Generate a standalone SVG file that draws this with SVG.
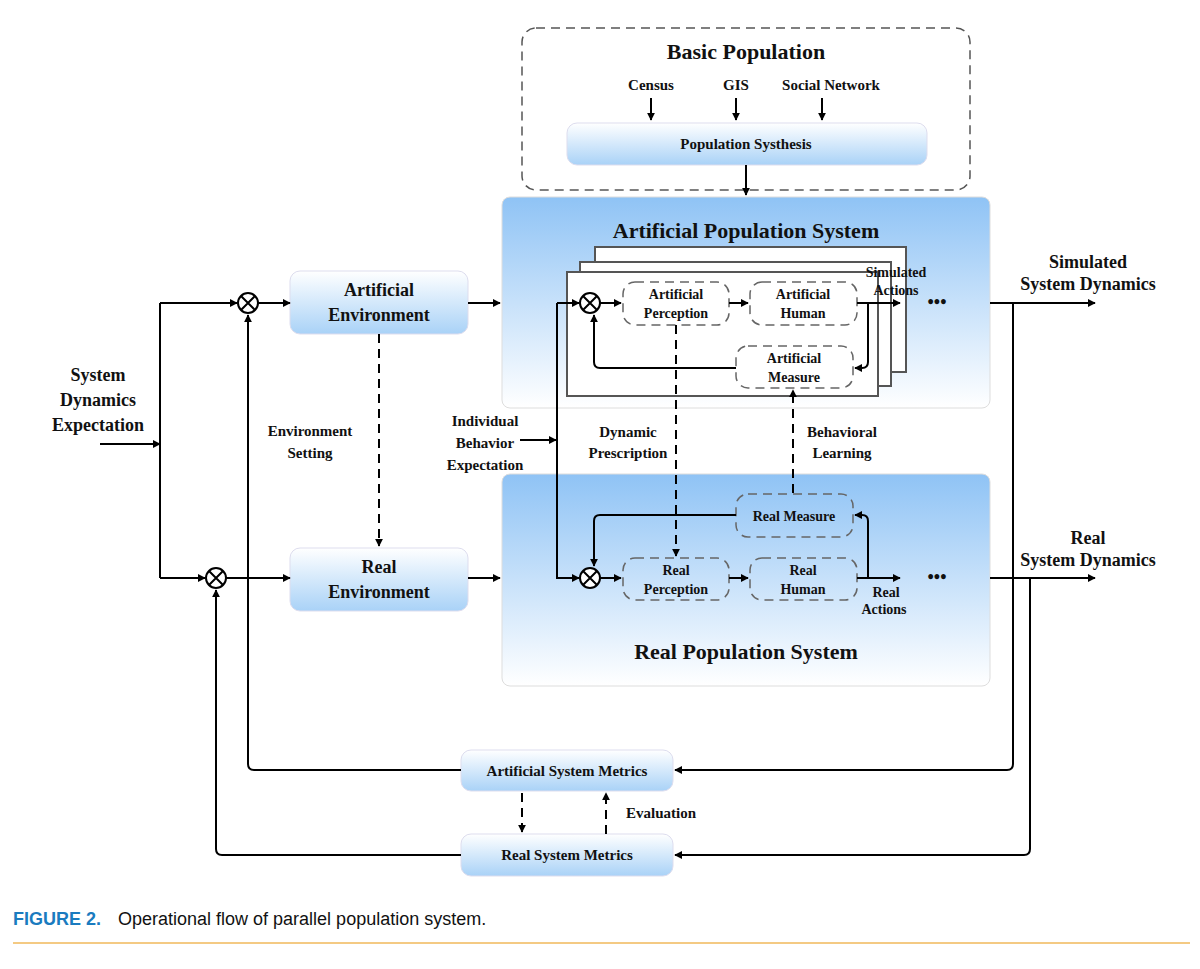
<svg xmlns="http://www.w3.org/2000/svg" width="1200" height="969" viewBox="0 0 1200 969">
<defs>
<linearGradient id="gTop" x1="0" y1="0" x2="0" y2="1"><stop offset="0" stop-color="#8fc3f5"/><stop offset="1" stop-color="#ffffff"/></linearGradient>
<linearGradient id="gBox" x1="0" y1="0" x2="0" y2="1"><stop offset="0" stop-color="#ffffff"/><stop offset="1" stop-color="#a9d2f7"/></linearGradient>
<marker id="ar" viewBox="0 0 10 10" refX="9" refY="5" markerWidth="8" markerHeight="8" markerUnits="userSpaceOnUse" orient="auto"><path d="M0,0L10,5L0,10z" fill="#000"/></marker>
</defs>
<style>
text{font-family:"Liberation Serif",serif;font-weight:bold;fill:#111;text-anchor:middle}
.t{font-size:18px}.s{font-size:15px}.xs{font-size:14px}.big{font-size:22px}
.ln{fill:none;stroke:#000;stroke-width:2;marker-end:url(#ar)}
.nl{fill:none;stroke:#000;stroke-width:2}
.dl{fill:none;stroke:#000;stroke-width:2;stroke-dasharray:9,6;marker-end:url(#ar)}
.box{fill:url(#gBox);stroke:#dde;stroke-width:1}
.dbox{fill:none;stroke:#666;stroke-width:1.5;stroke-dasharray:9,6}
.frame{fill:#fff;stroke:#555;stroke-width:2}
.circ{fill:#fff;stroke:#000;stroke-width:2}
</style>
<rect width="1200" height="969" fill="#fff"/>
<g id="basic-population">
<rect x="522" y="28" width="448" height="162" rx="14" fill="none" stroke="#555" stroke-width="1.5" stroke-dasharray="9,6"/>
<text x="746" y="59" class="big">Basic Population</text>
<text x="651" y="90" class="s">Census</text><text x="736" y="90" class="s">GIS</text><text x="831" y="90" class="s">Social Network</text>
<rect x="567" y="123" width="360" height="42" rx="10" class="box"/>
<text x="746" y="149" class="s">Population Systhesis</text>
</g>
<g id="artificial-system">
<rect x="502" y="197" width="488" height="211" rx="8" fill="url(#gTop)" stroke="#ddd"/>
<text x="746" y="238" class="big">Artificial Population System</text>
<rect x="595" y="247" width="311" height="125" class="frame"/>
<rect x="580" y="262" width="311" height="124" class="frame"/>
<rect x="567" y="272" width="311" height="124" class="frame"/>
<rect x="623" y="282" width="106" height="43" rx="12" class="dbox"/><text x="676" y="299" class="xs">Artificial</text><text x="676" y="318" class="xs">Perception</text>
<rect x="750" y="282" width="107" height="43" rx="12" class="dbox"/><text x="803" y="299" class="xs">Artificial</text><text x="803" y="318" class="xs">Human</text>
<rect x="736" y="346" width="117" height="42" rx="12" class="dbox"/><text x="794" y="363" class="xs">Artificial</text><text x="794" y="382" class="xs">Measure</text>
<text x="896" y="277" class="xs">Simulated</text><text x="896" y="295" class="xs">Actions</text>
<text x="937" y="308" class="t">•••</text>
<circle cx="590" cy="303" r="10" class="circ"/><path d="M583,296L597,310M597,296L583,310" stroke="#000" stroke-width="2"/>
</g>
<g id="real-system">
<rect x="502" y="474" width="488" height="212" rx="8" fill="url(#gTop)" stroke="#ddd"/>
<text x="746" y="659" class="big">Real Population System</text>
<rect x="736" y="494" width="117" height="43" rx="12" class="dbox"/><text x="794" y="521" class="xs">Real Measure</text>
<rect x="623" y="558" width="106" height="42" rx="12" class="dbox"/><text x="676" y="575" class="xs">Real</text><text x="676" y="594" class="xs">Perception</text>
<rect x="750" y="558" width="107" height="42" rx="12" class="dbox"/><text x="803" y="575" class="xs">Real</text><text x="803" y="594" class="xs">Human</text>
<text x="886" y="597" class="xs">Real</text><text x="884" y="614" class="xs">Actions</text>
<text x="937" y="583" class="t">•••</text>
<circle cx="590" cy="578" r="10" class="circ"/><path d="M583,571L597,585M597,571L583,585" stroke="#000" stroke-width="2"/>
</g>
<g id="environments">
<circle cx="248" cy="303" r="10" class="circ"/><path d="M241,296L255,310M255,296L241,310" stroke="#000" stroke-width="2"/>
<circle cx="216" cy="578" r="10" class="circ"/><path d="M209,571L223,585M223,571L209,585" stroke="#000" stroke-width="2"/>
<rect x="290" y="271" width="178" height="63" rx="10" class="box"/><text x="379" y="296" class="t">Artificial</text><text x="379" y="321" class="t">Environment</text>
<rect x="290" y="548" width="178" height="63" rx="10" class="box"/><text x="379" y="573" class="t">Real</text><text x="379" y="598" class="t">Environment</text>
</g>
<g id="metrics">
<rect x="461" y="750" width="212" height="41" rx="10" class="box"/><text x="567" y="776" class="s">Artificial System Metrics</text>
<rect x="461" y="834" width="212" height="42" rx="10" class="box"/><text x="567" y="860" class="s">Real System Metrics</text>
</g>
<g id="labels">
<text x="98" y="381" class="t">System</text><text x="98" y="406" class="t">Dynamics</text><text x="98" y="431" class="t">Expectation</text>
<text x="310" y="436" class="s">Environment</text><text x="310" y="458" class="s">Setting</text>
<text x="485" y="426" class="s">Individual</text><text x="485" y="448" class="s">Behavior</text><text x="485" y="470" class="s">Expectation</text>
<text x="628" y="437" class="s">Dynamic</text><text x="628" y="458" class="s">Prescription</text>
<text x="842" y="437" class="s">Behavioral</text><text x="842" y="458" class="s">Learning</text>
<text x="1088" y="268" class="t">Simulated</text><text x="1088" y="290" class="t">System Dynamics</text>
<text x="1088" y="544" class="t">Real</text><text x="1088" y="566" class="t">System Dynamics</text>
<text x="661" y="818" class="s">Evaluation</text>
</g>
<g id="connectors">
<path d="M651,98V120" class="ln"/><path d="M736,98V120" class="ln"/><path d="M822,98V120" class="ln"/>
<path d="M746,165V195" class="ln"/>
<path d="M100,444H160" class="ln"/>
<path d="M160,303V578" class="nl"/>
<path d="M160,303H237" class="ln"/><path d="M160,578H205" class="ln"/>
<path d="M258,303H290" class="ln"/><path d="M226,578H290" class="ln"/>
<path d="M468,303H500" class="ln"/><path d="M468,578H500" class="ln"/>
<path d="M379,334V546" class="dl"/>
<path d="M520,440H556" class="ln"/>
<path d="M557,303V578H579" class="ln"/>
<path d="M557,303H579" class="ln"/>
<path d="M600,303H621" class="ln"/><path d="M729,303H748" class="ln"/>
<path d="M857,303H900" class="ln"/>
<path d="M868,303V362Q868,368 862,368H855" class="ln"/>
<path d="M736,368H600Q594,368 594,362V315" class="ln"/>
<path d="M600,578H621" class="ln"/><path d="M729,578H748" class="ln"/>
<path d="M857,578H900" class="ln"/>
<path d="M868,578V521Q868,515 862,515H855" class="ln"/>
<path d="M736,515H600Q594,515 594,521V566" class="ln"/>
<path d="M676,325V556" class="dl"/>
<path d="M793,493V390" class="dl"/>
<path d="M990,303H1095" class="ln"/><path d="M990,578H1095" class="ln"/>
<path d="M1013,303V764Q1013,770 1007,770H675" class="ln"/>
<path d="M1030,578V849Q1030,855 1024,855H675" class="ln"/>
<path d="M461,770H254Q248,770 248,764V315" class="ln"/>
<path d="M461,855H222Q216,855 216,849V590" class="ln"/>
<path d="M522,793V832" class="dl"/><path d="M606,834V793" class="dl"/>
</g>
<g id="caption">
<text x="13" y="925" style="font-family:'Liberation Sans',sans-serif;font-size:18px;text-anchor:start;fill:#1a7bbf;font-weight:bold">FIGURE 2.</text>
<text x="118" y="925" style="font-family:'Liberation Sans',sans-serif;font-size:18px;text-anchor:start;font-weight:normal">Operational flow of parallel population system.</text>
<line x1="13" y1="943" x2="1190" y2="943" stroke="#f0b85a" stroke-width="1.5"/>
</g>
</svg>
